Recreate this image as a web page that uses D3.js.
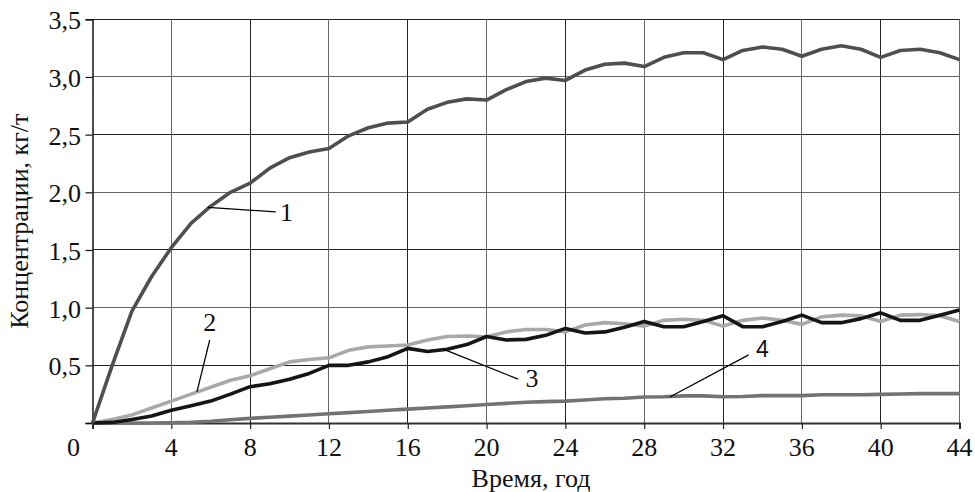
<!DOCTYPE html>
<html>
<head>
<meta charset="utf-8">
<script src="https://cdn.jsdelivr.net/npm/d3@7"></script>
<style>
  html, body { margin: 0; padding: 0; background: #fff; }
  svg { display: block; }
  text { font-family: "Liberation Serif", "Times New Roman", serif; fill: #111; }
</style>
</head>
<body>
<svg id="chart" width="975" height="492"></svg>
<script>
// ---- data ----
const years = d3.range(0, 45);
const series1 = [0, 0.5, 0.97, 1.27, 1.52, 1.73, 1.88, 2.0, 2.08, 2.21, 2.30, 2.35, 2.38, 2.49, 2.56, 2.60, 2.61, 2.72, 2.78, 2.81, 2.80, 2.89, 2.96, 2.99, 2.97, 3.06, 3.11, 3.12, 3.09, 3.17, 3.21, 3.21, 3.15, 3.23, 3.26, 3.24, 3.18, 3.24, 3.27, 3.24, 3.17, 3.23, 3.24, 3.21, 3.15];
const series2 = [0, 0.03, 0.07, 0.13, 0.19, 0.25, 0.31, 0.37, 0.41, 0.47, 0.53, 0.55, 0.565, 0.63, 0.66, 0.667, 0.676, 0.72, 0.75, 0.754, 0.748, 0.79, 0.81, 0.81, 0.79, 0.85, 0.87, 0.86, 0.84, 0.89, 0.90, 0.89, 0.84, 0.89, 0.91, 0.89, 0.855, 0.92, 0.935, 0.93, 0.88, 0.935, 0.94, 0.93, 0.88];
const series3 = [0, 0.005, 0.03, 0.06, 0.11, 0.15, 0.19, 0.25, 0.315, 0.34, 0.38, 0.43, 0.50, 0.50, 0.53, 0.575, 0.647, 0.62, 0.64, 0.68, 0.75, 0.72, 0.725, 0.76, 0.82, 0.78, 0.79, 0.83, 0.88, 0.835, 0.835, 0.88, 0.93, 0.835, 0.835, 0.88, 0.935, 0.87, 0.87, 0.905, 0.955, 0.89, 0.89, 0.935, 0.98];
const series4 = [0, 0, 0, 0, 0.002, 0.006, 0.015, 0.028, 0.04, 0.05, 0.06, 0.07, 0.08, 0.09, 0.10, 0.11, 0.12, 0.13, 0.14, 0.15, 0.16, 0.17, 0.18, 0.185, 0.19, 0.20, 0.21, 0.215, 0.225, 0.228, 0.235, 0.235, 0.228, 0.23, 0.237, 0.237, 0.237, 0.245, 0.245, 0.245, 0.248, 0.252, 0.255, 0.255, 0.255];
const xTicks = [0, 4, 8, 12, 16, 20, 24, 28, 32, 36, 40, 44];
const yTicks = [0.5, 1.0, 1.5, 2.0, 2.5, 3.0, 3.5];
const xTitle = "Время, год";
const yTitle = "Концентрации, кг/т";
// annotations: label, anchor point on curve (t, v), line end (t, v), label position (t, v)
const annLabels = ["1", "2", "3", "4"];
const annAnchor = [[5.85, 1.87], [5.3, 0.27], [17.8, 0.64], [29.3, 0.225]];
const annEnd = [[9.3, 1.83], [5.95, 0.72], [21.6, 0.38], [33.3, 0.59]];
const annText = [[9.85, 1.75], [5.95, 0.80], [22.3, 0.31], [34.0, 0.57]];

// ---- chart ----
const svg = d3.select("#chart");
const x = d3.scaleLinear().domain([0, 44]).range([92.5, 959.5]);
const y = d3.scaleLinear().domain([0, 3.5]).range([423, 19.3]);

const grid = svg.append("g").attr("shape-rendering", "crispEdges");
grid.selectAll("line.h").data(yTicks).join("line")
  .attr("x1", x(0)).attr("x2", x(44))
  .attr("y1", d => y(d)).attr("y2", d => y(d))
  .attr("stroke", (d, i) => i % 2 ? "#666" : "#222").attr("stroke-width", 1);
grid.selectAll("line.v").data(xTicks.slice(1)).join("line")
  .attr("x1", d => x(d)).attr("x2", d => x(d))
  .attr("y1", y(3.5)).attr("y2", y(0))
  .attr("stroke", (d, i) => i % 2 ? "#222" : "#666").attr("stroke-width", 1);

// axes
const yAxis = d3.axisLeft(y).tickValues([0].concat(yTicks)).tickSize(7).tickFormat("");
const gy = svg.append("g").attr("transform", `translate(${x(0)},0)`).call(yAxis);
gy.select(".domain").attr("stroke", "#111").attr("stroke-width", 1.5);
gy.selectAll(".tick line").attr("stroke", "#111").attr("stroke-width", 1.2);

const xAxis = d3.axisBottom(x).tickValues(xTicks).tickSize(6).tickFormat("");
const gx = svg.append("g").attr("transform", `translate(0,${y(0)})`).call(xAxis);
gx.select(".domain").attr("stroke", "#333").attr("stroke-width", 2);
gx.selectAll(".tick line").attr("stroke", "#222").attr("stroke-width", 1.2);

// tick labels
const fmt = d => d.toFixed(1).replace(".", ",");
svg.append("g").selectAll("text").data(yTicks).join("text")
  .attr("x", 81).attr("y", d => y(d) + 10)
  .attr("text-anchor", "end").attr("font-size", 26)
  .text(fmt);
svg.append("g").selectAll("text").data(xTicks).join("text")
  .attr("x", d => d === 0 ? x(0) - 19 : x(d)).attr("y", 456)
  .attr("text-anchor", "middle").attr("font-size", 26)
  .text(d => d);

// titles
svg.append("text").attr("x", (x(0) + x(44)) / 2 + 5).attr("y", 487)
  .attr("text-anchor", "middle").attr("font-size", 26).text(xTitle);
svg.append("text").attr("transform", `translate(28,${(y(0) + y(3.5)) / 2})rotate(-90)`)
  .attr("text-anchor", "middle").attr("font-size", 26).text(yTitle);

// lines
const line = d3.line().x((d, i) => x(years[i])).y(d => y(d));
const seriesList = [
  { v: series4, c: "#737373" },
  { v: series2, c: "#a9a9a9" },
  { v: series3, c: "#151515" },
  { v: series1, c: "#4f4f4f" }
];
svg.append("g").selectAll("path").data(seriesList).join("path")
  .attr("d", d => line(d.v))
  .attr("fill", "none").attr("stroke", d => d.c)
  .attr("stroke-width", 3.6).attr("stroke-linejoin", "round");

// annotations
const ann = svg.append("g");
ann.selectAll("line").data(annLabels).join("line")
  .attr("x1", (d, i) => x(annAnchor[i][0])).attr("y1", (d, i) => y(annAnchor[i][1]))
  .attr("x2", (d, i) => x(annEnd[i][0])).attr("y2", (d, i) => y(annEnd[i][1]))
  .attr("stroke", "#000").attr("stroke-width", 1.3);
ann.selectAll("text").data(annLabels).join("text")
  .attr("x", (d, i) => x(annText[i][0])).attr("y", (d, i) => y(annText[i][1]))
  .attr("text-anchor", "middle")
  .style("font-family", (d, i) => i === 3 ? "'Liberation Sans', Arial, sans-serif" : null)
  .attr("font-size", (d, i) => i === 3 ? 23 : 26)
  .text(d => d);
</script>
</body>
</html>
